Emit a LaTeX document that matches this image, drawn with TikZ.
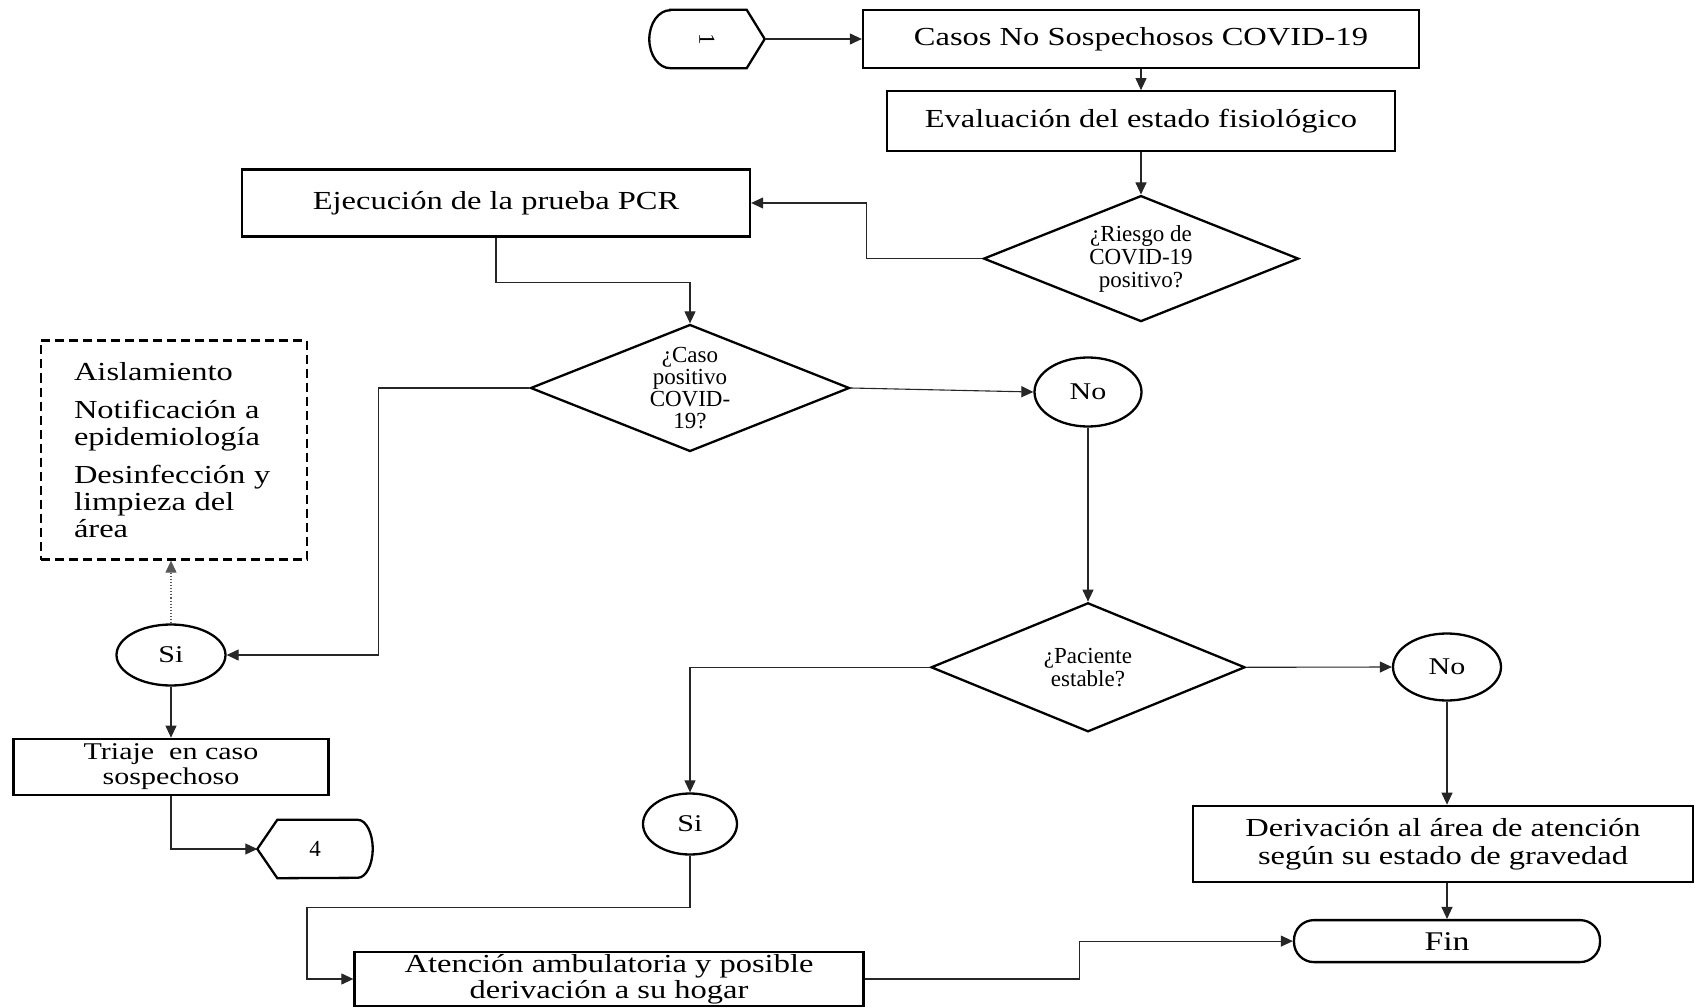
\documentclass[tikz,border=0pt]{standalone}
\usepackage{fontspec}
\setmainfont{Liberation Serif}
\newfontfamily\wideserif[FakeStretch=1.25]{Liberation Serif}
\usepackage{graphicx}
\usepackage{tikz}
\usetikzlibrary{positioning,shapes.geometric,arrows.meta,calc}
\definecolor{txt}{HTML}{000000}
\definecolor{lnB}{HTML}{262626}
\definecolor{dtB}{HTML}{595959}

\begin{document}
\begin{tikzpicture}[
  x=1pt,y=-1pt,
  text=txt,
  >={Triangle[length=12pt,width=11pt]},
  bx/.style={draw=txt,line width=2.3pt,align=center,inner sep=2pt},
  proc/.style={bx,font=\wideserif\fontsize{26}{28}\selectfont},
  dec/.style={bx,diamond,aspect=2.5,inner sep=0pt,font=\fontsize{23}{23}\selectfont},
  ans/.style={bx,ellipse,inner sep=0pt,font=\wideserif\fontsize{24}{24}\selectfont},
  conn/.style={minimum width=115pt,minimum height=58pt,inner sep=0pt,font=\fontsize{23}{23}\selectfont},
  lnk/.style={line width=1.1pt,draw=lnB},
  ]
\useasboundingbox (0,0) rectangle (1695,1008);

% ================= top: entry and evaluation =================
\node[conn] (con1) at (707,39) {\rotatebox{-90}{1}};
\draw[line width=2.3pt] ([xshift=21pt]con1.north west) -- ([xshift=-18pt]con1.north east) -- (con1.east)
  -- ([xshift=-18pt]con1.south east) -- ([xshift=21pt]con1.south west)
  arc[start angle=270,end angle=90,x radius=21pt,y radius=29pt] -- cycle;

\node[proc,minimum width=556pt,minimum height=58pt] (casos) at (1141,39) {Casos No Sospechosos COVID-19};
\node[proc,minimum width=508pt,minimum height=60pt,below=21pt of casos] (eval) {Evaluación del estado fisiológico};
\node[dec,minimum width=315pt,minimum height=126pt,below=42pt of eval] (riesgo) {¿Riesgo de\\COVID-19\\positivo?};

\node[proc,minimum width=508pt,minimum height=67pt] (pcr) at (496,203) {Ejecución de la prueba PCR};
\node[dec,minimum width=319pt,minimum height=127pt,font=\fontsize{23}{22}\selectfont] (caso) at (690,388) {¿Caso\\positivo\\COVID-\\19?};

% ================= right branch: negative case =================
\node[ans,minimum width=107pt,minimum height=69pt] (no1) at (1088,392) {No};
\node[dec,minimum width=314pt,minimum height=129pt,below=174pt of no1] (pac) {¿Paciente\\estable?};
\node[ans,minimum width=108pt,minimum height=67pt] (no2) at (1447,667) {No};
\node[proc,minimum width=500pt,minimum height=76pt,below=103pt of no2,xshift=-4pt] (deriv)
  {Derivación al área de atención\\según su estado de gravedad};
\node[bx,rounded corners=20pt,minimum width=306pt,minimum height=42pt,below=36pt of deriv,xshift=4pt,
      font=\wideserif\fontsize{27}{27}\selectfont] (fin) {Fin};

\node[ans,minimum width=94pt,minimum height=61pt] (si2) at (690,824) {Si};
\node[proc,minimum width=509pt,minimum height=54pt,font=\wideserif\fontsize{26}{26}\selectfont] (aten) at (609,979)
  {Atención ambulatoria y posible\\derivación a su hogar};

% ================= left branch: positive case =================
\node[draw=txt,line width=2.3pt,dash pattern=on 9pt off 5pt,text width=200pt,inner xsep=33pt,minimum height=219pt,
      align=left,font=\wideserif\fontsize{26}{27}\selectfont] (acc) at (174,450)
  {Aislamiento\\[11pt]Notificación a\\epidemiología\\[11pt]Desinfección y\\limpieza del\\área};
\node[ans,minimum width=109pt,minimum height=61pt] (si1) at (171,655) {Si};
\node[proc,minimum width=315pt,minimum height=56pt,below=51pt of si1,font=\wideserif\fontsize{24}{25}\selectfont] (triaje)
  {Triaje\ \ en caso\\sospechoso};

\node[conn] (con4) at (315,849) {4};
\draw[line width=2.3pt] (con4.west) -- ([xshift=20pt]con4.north west) -- ([xshift=-15pt]con4.north east)
  arc[start angle=90,end angle=-90,x radius=15pt,y radius=29pt] -- ([xshift=20pt]con4.south west) -- cycle;

% ================= connectors =================
\draw[lnk,->] (con1.east) -- (casos.west);
\draw[lnk,->] (casos) -- (eval);
\draw[lnk,->] (eval) -- (riesgo);
\draw[lnk,->] (riesgo.west) -- ++(-116,0) |- (pcr.east);
\draw[lnk,->] (pcr.south) -- ++(0,45) -| (caso.north);
\draw[lnk,->] (caso.west) -- ++(-151,0) |- (si1.east);
\draw[lnk,->] (caso.east) -- (no1.west);
\draw[lnk,->] (no1) -- (pac);
\draw[lnk,->] (pac.east) -- (no2.west);
\draw[lnk,->] (no2.south) -- (no2.south |- deriv.north);
\draw[lnk,->] (fin.north |- deriv.south) -- (fin.north);
\draw[lnk,->] (pac.west) -| (si2.north);
\draw[lnk,->] (si2.south) |- ++(-383,52) |- (aten.west);
\draw[lnk,->] (aten.east) -- ++(215,0) |- (fin.west);
\draw[lnk,->,draw=dtB,dotted] (si1.north) -- (si1.north |- acc.south);
\draw[lnk,->] (si1.south) -- (si1.south |- triaje.north);
\draw[lnk,->] (triaje.south) |- (con4.west);

\end{tikzpicture}
\end{document}
